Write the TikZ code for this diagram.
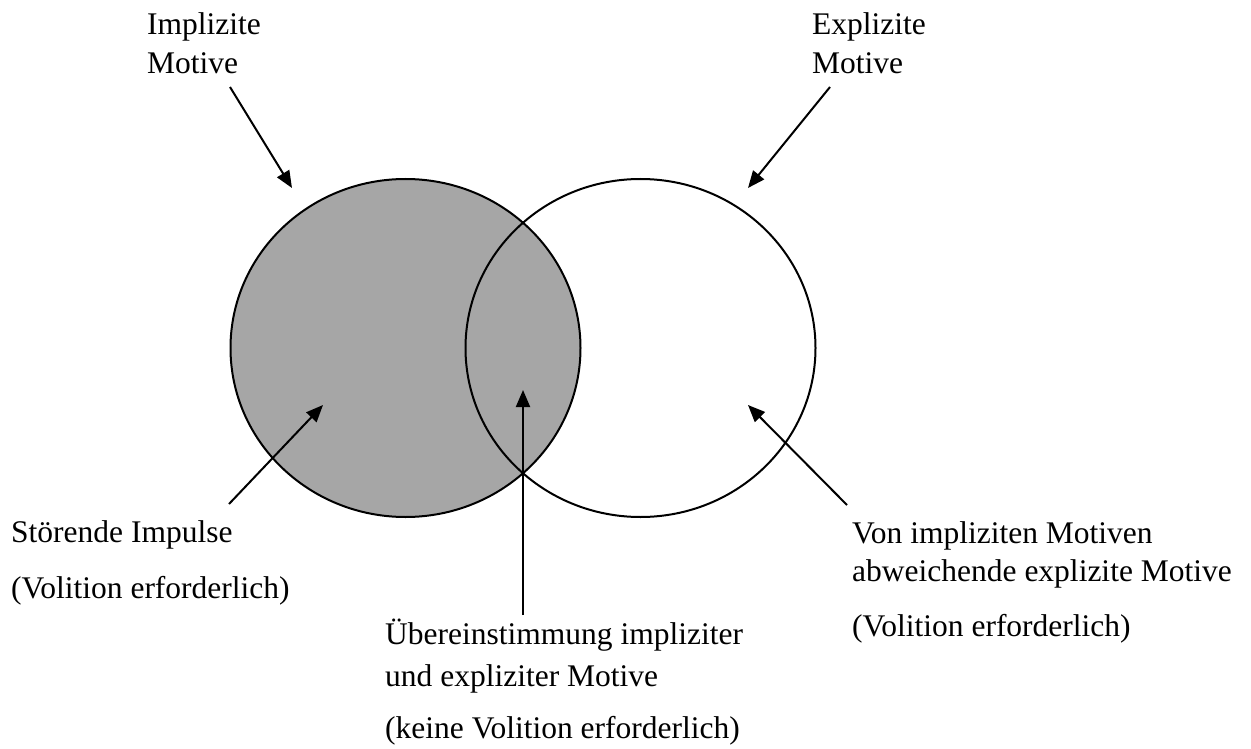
\documentclass[tikz,border=0pt]{standalone}
\usepackage{fontspec}
\setmainfont{Liberation Serif}
\usetikzlibrary{arrows.meta,shapes.geometric}
\definecolor{setgray}{RGB}{166,166,166}
\begin{document}
\begin{tikzpicture}[x=1pt,y=-1pt,
  lbl/.style={anchor=base west, inner sep=0pt, font=\fontsize{31.5}{38}\selectfont},
  ptr/.style={line width=2pt, -{Triangle[length=17pt,width=14pt]}},
  motiveset/.style={ellipse, draw, line width=2pt, minimum width=350pt,
    minimum height=338pt, inner sep=0pt}]
\useasboundingbox (0,0) rectangle (1251,749);

% the two motive sets
\node[motiveset, fill=setgray] (imp) at (405.5,348) {};
\node[motiveset] (exp) at (640.5,348) {};

% labels
\node[lbl] (impA) at (147,35) {Implizite};
\node[lbl] (impB) at (147,74) {Motive};
\node[lbl] (expA) at (812,35) {Explizite};
\node[lbl] (expB) at (812,74) {Motive};
\node[lbl] (stoA) at (11,542) {Störende Impulse};
\node[lbl] (stoB) at (11,598) {(Volition erforderlich)};
\node[lbl] (uebA) at (385,644) {Übereinstimmung impliziter};
\node[lbl] (uebB) at (385,686) {und expliziter Motive};
\node[lbl] (uebC) at (385,738) {(keine Volition erforderlich)};
\node[lbl] (vonA) at (852,543) {Von impliziten Motiven};
\node[lbl] (vonB) at (852,581) {abweichende explizite Motive};
\node[lbl] (vonC) at (852,636) {(Volition erforderlich)};

% arrow ends
\coordinate (impTail) at (230,87);
\coordinate (impTip) at (292,188);
\coordinate (expTail) at (830,87);
\coordinate (expTip) at (748,188);
\coordinate (stoTail) at (229,504);
\coordinate (stoTip) at (323,405);
\coordinate (uebTail) at (523,615);
\coordinate (uebTip) at (523,390);
\coordinate (vonTail) at (847,505);
\coordinate (vonTip) at (748,405);

\draw[ptr] (impTail) -- (impTip);
\draw[ptr] (expTail) -- (expTip);
\draw[ptr] (stoTail) -- (stoTip);
\draw[ptr] (uebTail) -- (uebTip);
\draw[ptr] (vonTail) -- (vonTip);
\end{tikzpicture}
\end{document}
